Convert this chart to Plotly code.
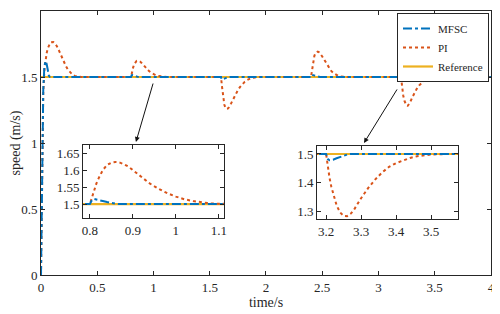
import plotly.graph_objects as go

# ---- data ----
t_mfsc = [0, 0.005, 0.01, 0.02, 0.03, 0.04, 0.05, 0.06, 0.07, 0.08,
          0.8, 0.805, 0.81, 0.82, 0.83, 0.84, 0.85, 0.86, 0.87,
          1.6, 1.605, 1.61, 1.62, 1.64, 1.66, 1.68,
          2.4, 2.405, 2.41, 2.42, 2.44, 2.46, 2.48,
          3.2, 3.205, 3.21, 3.22, 3.23, 3.24, 3.25, 3.26, 3.27, 4.0]
v_mfsc = [0, 0.5, 1.0, 1.4, 1.58, 1.62, 1.6, 1.54, 1.51, 1.5,
          1.5, 1.512, 1.515, 1.513, 1.509, 1.506, 1.503, 1.501, 1.5,
          1.5, 1.485, 1.481, 1.484, 1.492, 1.498, 1.5,
          1.5, 1.513, 1.516, 1.514, 1.508, 1.503, 1.5,
          1.5, 1.482, 1.478, 1.48, 1.485, 1.49, 1.495, 1.498, 1.5, 1.5]

t_pi = [0, 0.005, 0.01, 0.015, 0.02, 0.03, 0.04, 0.05, 0.06, 0.07, 0.08, 0.09, 0.10, 0.11,
        0.12, 0.14, 0.16, 0.18, 0.20, 0.22, 0.24, 0.26, 0.28, 0.30, 0.33, 0.36,
        0.8, 0.805, 0.81, 0.815, 0.82, 0.83, 0.84, 0.85, 0.86, 0.87, 0.88, 0.89, 0.90, 0.92, 0.94,
        0.96, 0.98, 1.00, 1.02, 1.04, 1.06, 1.08, 1.10, 1.12,
        1.6, 1.61, 1.62, 1.63, 1.64, 1.65, 1.66, 1.67, 1.69, 1.71, 1.73, 1.75, 1.77,
        1.79, 1.81, 1.83, 1.85, 1.87, 1.90, 1.95,
        2.4, 2.41, 2.42, 2.43, 2.44, 2.45, 2.46, 2.47, 2.48, 2.50, 2.52, 2.54, 2.56,
        2.58, 2.60, 2.62, 2.64, 2.66, 2.68, 2.72,
        3.2, 3.205, 3.21, 3.215, 3.22, 3.23, 3.24, 3.25, 3.26, 3.27, 3.28, 3.30, 3.32, 3.34, 3.36,
        3.38, 3.40, 3.42, 3.44, 3.46, 3.48, 3.50, 3.55, 4.0]
v_pi = [0, 0.3, 0.7, 1.1, 1.38, 1.55, 1.63, 1.68, 1.715, 1.74, 1.755, 1.763, 1.766, 1.765,
        1.758, 1.735, 1.70, 1.66, 1.62, 1.585, 1.555, 1.533, 1.518, 1.508, 1.502, 1.5,
        1.5, 1.522, 1.542, 1.56, 1.575, 1.60, 1.615, 1.622, 1.624, 1.622, 1.617, 1.61, 1.60, 1.58, 1.56,
        1.545, 1.532, 1.522, 1.514, 1.509, 1.505, 1.502, 1.501, 1.5,
        1.5, 1.42, 1.34, 1.29, 1.265, 1.258, 1.26, 1.27, 1.30, 1.335, 1.37, 1.40, 1.425,
        1.447, 1.463, 1.476, 1.485, 1.492, 1.497, 1.5,
        1.5, 1.56, 1.62, 1.66, 1.68, 1.69, 1.692, 1.688, 1.68, 1.655, 1.625, 1.595, 1.568,
        1.546, 1.53, 1.518, 1.51, 1.505, 1.502, 1.5,
        1.5, 1.455, 1.415, 1.385, 1.36, 1.32, 1.295, 1.283, 1.282, 1.29, 1.305, 1.345, 1.38, 1.41, 1.435,
        1.455, 1.468, 1.478, 1.486, 1.492, 1.496, 1.498, 1.5, 1.5]

t_ref = [0, 4.0]
v_ref = [1.5, 1.5]

main_xticks = [0, 0.5, 1, 1.5, 2, 2.5, 3, 3.5, 4]
main_yticks = [0, 0.5, 1, 1.5, 2]
in1_xticks = [0.8, 0.9, 1, 1.1]
in1_yticks = [1.5, 1.55, 1.6, 1.65]
in2_xticks = [3.2, 3.3, 3.4, 3.5]
in2_yticks = [1.3, 1.4, 1.5]

C_MFSC = "#0072BD"
C_PI = "#D95319"
C_REF = "#EDB120"
AX = "#262626"
FONT = "Liberation Serif, Times New Roman, serif"

fig = go.Figure()

def add_series(xa, ya, show):
    fig.add_trace(go.Scatter(x=t_ref, y=v_ref, mode="lines", name="Reference",
                             line=dict(color=C_REF, width=2.2), xaxis=xa, yaxis=ya,
                             showlegend=False, legendrank=3))
    fig.add_trace(go.Scatter(x=t_pi, y=v_pi, mode="lines", name="PI",
                             line=dict(color=C_PI, width=2, dash="dot"),
                             xaxis=xa, yaxis=ya, showlegend=show, legendrank=2))
    fig.add_trace(go.Scatter(x=t_mfsc, y=v_mfsc, mode="lines", name="MFSC",
                             line=dict(color=C_MFSC, width=2, dash="dashdot"),
                             xaxis=xa, yaxis=ya, showlegend=show, legendrank=1))

add_series("x", "y", True)
fig.add_trace(go.Scatter(x=[None], y=[None], mode="lines", name="Reference",
                         line=dict(color=C_REF, width=2.2), legendrank=3))
add_series("x2", "y2", False)
add_series("x3", "y3", False)

def axstyle(rng, ticks, domain=None, anchor=None, size=13):
    d = dict(range=rng, tickvals=ticks, ticks="inside", ticklen=4, tickcolor=AX,
             showline=True, linecolor=AX, linewidth=1, mirror="ticks", automargin=False,
             showgrid=False, zeroline=False, tickfont=dict(family=FONT, size=size, color=AX))
    if domain is not None:
        d["domain"] = domain
    if anchor is not None:
        d["anchor"] = anchor
    return d

# page body has an 8px margin; figure sized to fill the rest of the window
OFF = 8
W, H = 500 - OFF, 314 - OFF
L, R, T, B = 41 - OFF, 9, 11 - OFF, 39
pw, ph = W - L - R, H - T - B

def dx(px):
    return (px - 41) / pw

def dy(py):
    return (275 - py) / ph

fig.update_layout(
    width=W, height=H, margin=dict(l=L, r=R, t=T, b=B, autoexpand=False),
    paper_bgcolor="white", plot_bgcolor="white",
    font=dict(family=FONT, color=AX),
    xaxis=dict(**axstyle([0, 4.0001], main_xticks),
               title=dict(text="time/s", font=dict(family=FONT, size=14, color=AX), standoff=2)),
    yaxis=dict(**axstyle([0, 2], main_yticks),
               title=dict(text="speed (m/s)", font=dict(family=FONT, size=14, color=AX), standoff=4)),
    xaxis2=axstyle([0.784, 1.112], in1_xticks, [dx(83), dx(224)], "y2"),
    yaxis2=axstyle([1.459, 1.674], in1_yticks, [dy(218), dy(145)], "x2"),
    xaxis3=axstyle([3.174, 3.577], in2_xticks, [dx(317), dx(458)], "y3"),
    yaxis3=axstyle([1.272, 1.528], in2_yticks, [dy(219), dy(146)], "x3"),
    legend=dict(x=dx(489), y=dy(13), xanchor="right", yanchor="top",
                bgcolor="white", bordercolor=AX, borderwidth=1,
                font=dict(family=FONT, size=11, color=AX), itemwidth=30,
                tracegroupgap=0),
    showlegend=True,
)

fig.add_annotation(x=0.844, y=1.008, ax=1.0, ay=1.462, xref="x", yref="y",
                   axref="x", ayref="y", showarrow=True, arrowhead=2, arrowsize=1,
                   arrowwidth=1, arrowcolor="#111111", text="")
fig.add_annotation(x=2.871, y=1.0, ax=3.173, ay=1.417, xref="x", yref="y",
                   axref="x", ayref="y", showarrow=True, arrowhead=2, arrowsize=1,
                   arrowwidth=1, arrowcolor="#111111", text="")

fig.write_html("out.html")
